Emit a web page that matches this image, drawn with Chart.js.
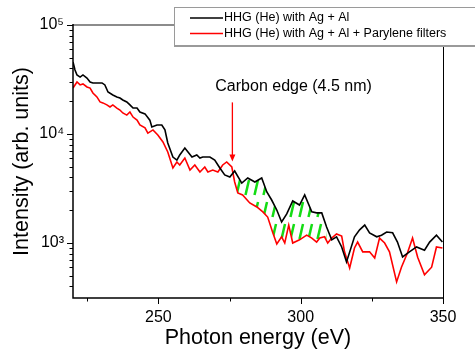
<!DOCTYPE html>
<html>
<head>
<meta charset="utf-8">
<script src="https://cdn.jsdelivr.net/npm/chart.js@4/dist/chart.umd.min.js"></script>
<style>
  html, body { margin: 0; padding: 0; background: #fff; }
  #wrap { width: 475px; height: 351px; }
</style>
</head>
<body>
<div id="wrap"><canvas id="chart" width="475" height="351"></canvas></div>
<script>
// HHG spectra (photon energy in eV, intensity in arb. units)
const seriesLabels = ['HHG (He) with Ag + Al', 'HHG (He) with Ag + Al + Parylene filters'];

const energyBlack = [220.0, 220.7, 221.4, 222.5, 223.5, 224.9, 226.0, 227.0, 228.8, 230.2,
  231.2, 232.3, 234.0, 235.4, 236.5, 237.5, 238.9, 240.0, 241.1, 242.5,
  243.5, 245.3, 247.0, 247.7, 249.5, 251.2, 252.3, 253.3, 255.1, 256.5,
  257.5, 259.3, 260.4, 261.8, 263.5, 264.6, 265.6, 268.1, 269.8, 271.6,
  273.3, 275.1, 276.8, 279.3, 281.4, 283.9, 286.3, 288.1, 289.8, 291.6,
  293.3, 295.1, 297.2, 299.6, 301.4, 303.9, 305.6, 307.4, 309.1, 310.9,
  312.6, 314.4, 316.1, 318.9, 320.7, 322.5, 324.2, 326.7, 328.4, 330.2,
  332.3, 334.0, 335.8, 338.2, 340.7, 343.5, 345.3, 347.7, 349.8];
const intensityBlack = [45800, 38700, 34800, 33300, 34800, 32600, 30000, 29400, 29400, 29400,
  28200, 24300, 22800, 21900, 21400, 20500, 19700, 18500, 17300, 17300,
  15900, 15300, 13400, 11600, 12100, 12100, 10900, 8270, 6150, 5770,
  6420, 7440, 6840, 6150, 6420, 6020, 6150, 6150, 5770, 4880,
  4210, 4030, 4580, 3550, 3950, 3630, 3950, 2940, 2480, 2010,
  1560, 1850, 2430, 2230, 2760, 1930, 1890, 1890, 1400, 1070,
  1140, 920, 670, 1140, 1320, 1460, 1240, 1140, 1180, 1260,
  1240, 1020, 744, 830, 920, 860, 1020, 1180, 1020];

const energyRed = [220.0, 221.4, 222.5, 223.5, 224.9, 226.0, 227.0, 228.4, 229.5, 230.5,
  231.9, 233.0, 234.0, 235.4, 236.5, 237.5, 238.9, 240.0, 241.1, 242.5,
  243.5, 245.3, 246.3, 248.1, 249.8, 251.6, 253.3, 255.1, 256.5, 257.5,
  259.3, 261.1, 262.8, 264.6, 266.3, 267.4, 269.1, 270.9, 272.6, 274.0,
  275.8, 276.8, 277.9, 279.6, 282.1, 284.6, 286.7, 288.4, 290.2, 291.6,
  293.3, 294.4, 295.8, 297.2, 299.6, 302.1, 303.9, 305.6, 306.7, 308.4,
  309.5, 310.9, 312.6, 314.4, 315.4, 317.2, 318.9, 320.0, 321.8, 324.2,
  326.0, 327.7, 329.5, 331.2, 333.7, 335.4, 337.5, 339.3, 341.1, 343.5,
  346.0, 347.7, 349.8];
const intensityRed = [26400, 30000, 28200, 28800, 27000, 26400, 23800, 21900, 19700, 19300,
  18500, 17700, 18500, 17300, 16600, 15600, 14900, 15900, 14300, 13400,
  12100, 11400, 10200, 10900, 9790, 8450, 6840, 4880, 5540, 5200,
  6020, 4670, 5200, 4480, 4980, 4480, 4670, 4480, 5200, 5540,
  4980, 3630, 2880, 2760, 2330, 2140, 1930, 1730, 1240, 980,
  1140, 1000, 1460, 1000, 1070, 1180, 1110, 1020, 1110, 1140,
  1000, 1110, 1210, 1160, 830, 590, 900, 1020, 830, 830,
  730, 1110, 1000, 830, 440, 600, 810, 1110, 740, 510,
  600, 920, 900];

// hatched region between the two spectra, past the carbon edge
const hatchRange = [276.5, 310];

const xRange = [220, 350];
const yRange = [313, 100000];
const xMajorTicks = [250, 300, 350];
const xMinorTicks = [225, 275, 325];
const yMajorTicks = [1000, 10000, 100000];
const yMinorTicks = [400, 500, 600, 700, 800, 900,
  2000, 3000, 4000, 5000, 6000, 7000, 8000, 9000,
  20000, 30000, 40000, 50000, 60000, 70000, 80000, 90000];

const edgeLabel = 'Carbon edge (4.5 nm)';
const edgeEnergy = 276;
const edgeArrow = [19500, 5600];     // tail, tip (intensity)
const edgeLabelAt = [297.5, 27500];  // energy, intensity

const FONT = '"Liberation Sans", Arial, sans-serif';
const sup = { '3': '\u00b3', '4': '\u2074', '5': '\u2075' };

const toPoints = (xs, ys) => xs.map((x, i) => ({ x: x, y: ys[i] }));
const blackPts = toPoints(energyBlack, intensityBlack);
const redPts = toPoints(energyRed, intensityRed);
const hatchPts = blackPts.filter(p => p.x >= hatchRange[0] && p.x <= hatchRange[1]);

const canvas = document.getElementById('chart');
const ctx = canvas.getContext('2d');

function makeHatch() {
  const c = document.createElement('canvas');
  c.width = 9;
  c.height = 22;
  const g = c.getContext('2d');
  g.strokeStyle = '#14dc14';
  g.lineWidth = 2.5;
  g.beginPath();
  g.moveTo(2.5, 19);
  g.lineTo(6, 4);
  g.stroke();
  return ctx.createPattern(c, 'repeat');
}
const hatch = makeHatch();

// frame, tick marks, legend box and the carbon edge note
const decor = {
  id: 'decor',
  afterDraw(chart) {
    const { ctx, chartArea: a, scales: { x, y } } = chart;
    ctx.save();

    // tick marks
    ctx.strokeStyle = '#000';
    ctx.lineWidth = 1;
    ctx.beginPath();
    xMajorTicks.forEach(v => { const px = Math.round(x.getPixelForValue(v)) + 0.5; ctx.moveTo(px, a.bottom); ctx.lineTo(px, a.bottom + 6); });
    xMinorTicks.forEach(v => { const px = Math.round(x.getPixelForValue(v)) + 0.5; ctx.moveTo(px, a.bottom); ctx.lineTo(px, a.bottom + 3.5); });
    yMajorTicks.forEach(v => { const py = Math.round(y.getPixelForValue(v)) + 0.5; ctx.moveTo(a.left, py); ctx.lineTo(a.left - 6, py); });
    yMinorTicks.forEach(v => { const py = Math.round(y.getPixelForValue(v)) + 0.5; ctx.moveTo(a.left, py); ctx.lineTo(a.left - 3.5, py); });
    ctx.stroke();

    // frame
    ctx.strokeStyle = '#8c8c8c';
    ctx.lineWidth = 2;
    ctx.beginPath(); ctx.moveTo(a.left, a.top); ctx.lineTo(a.right, a.top); ctx.stroke();
    ctx.strokeStyle = '#000';
    ctx.lineWidth = 1;
    ctx.beginPath(); ctx.moveTo(a.right + 0.5, a.top); ctx.lineTo(a.right + 0.5, a.bottom); ctx.stroke();
    ctx.lineWidth = 1.5;
    ctx.beginPath(); ctx.moveTo(a.left, a.top - 1); ctx.lineTo(a.left, a.bottom); ctx.lineTo(a.right + 1, a.bottom); ctx.stroke();

    // legend
    const lx = 174, ly = 7, lw = 310, lh = 39;
    ctx.fillStyle = '#fff';
    ctx.fillRect(lx, ly, lw, lh);
    ctx.strokeStyle = '#9a9a9a';
    ctx.lineWidth = 1;
    ctx.strokeRect(lx + 0.5, ly + 0.5, lw, lh);
    ctx.lineWidth = 2;
    ctx.beginPath(); ctx.moveTo(lx, ly + lh); ctx.lineTo(lx + lw, ly + lh); ctx.stroke();
    ctx.font = '12.5px ' + FONT;
    ctx.textBaseline = 'middle';
    ctx.textAlign = 'left';
    const colors = ['#000', '#ff0000'];
    seriesLabels.forEach((t, i) => {
      const yy = 18 + i * 15.5;
      ctx.strokeStyle = colors[i];
      ctx.lineWidth = 1.6;
      ctx.beginPath(); ctx.moveTo(190, yy); ctx.lineTo(223, yy); ctx.stroke();
      ctx.fillStyle = '#000';
      ctx.fillText(t, 224, yy);
    });

    // carbon edge note
    const ax = x.getPixelForValue(edgeEnergy);
    const y0 = y.getPixelForValue(edgeArrow[0]);
    const y1 = y.getPixelForValue(edgeArrow[1]);
    ctx.strokeStyle = '#ff0000';
    ctx.fillStyle = '#ff0000';
    ctx.lineWidth = 1.3;
    ctx.beginPath(); ctx.moveTo(ax, y0); ctx.lineTo(ax, y1 - 6); ctx.stroke();
    ctx.beginPath(); ctx.moveTo(ax - 3, y1 - 7); ctx.lineTo(ax + 3, y1 - 7); ctx.lineTo(ax, y1); ctx.closePath(); ctx.fill();
    ctx.fillStyle = '#000';
    ctx.font = '16px ' + FONT;
    ctx.textAlign = 'center';
    ctx.fillText(edgeLabel, x.getPixelForValue(edgeLabelAt[0]), y.getPixelForValue(edgeLabelAt[1]));

    ctx.restore();
  }
};

new Chart(ctx, {
  type: 'line',
  data: {
    datasets: [
      { label: seriesLabels[0], data: blackPts, borderColor: '#000', borderWidth: 1.6, pointRadius: 0, tension: 0, fill: false },
      { label: seriesLabels[1], data: redPts, borderColor: '#ff0000', borderWidth: 1.6, pointRadius: 0, tension: 0, fill: false },
      { label: 'hatch', data: hatchPts, borderWidth: 0, borderColor: 'rgba(0,0,0,0)', pointRadius: 0, tension: 0,
        fill: { target: 1, above: hatch, below: 'rgba(0,0,0,0)' } }
    ]
  },
  options: {
    responsive: false,
    animation: false,
    devicePixelRatio: 1,
    layout: { padding: { left: 0, top: 25, right: 32, bottom: 0 } },
    plugins: { legend: { display: false }, tooltip: { enabled: false } },
    scales: {
      x: {
        type: 'linear',
        min: xRange[0],
        max: xRange[1],
        afterFit(s) { s.height = 53; },
        afterBuildTicks(s) { s.ticks = xMajorTicks.map(v => ({ value: v })); },
        grid: { display: false, drawTicks: false },
        border: { display: false },
        ticks: { color: '#000', font: { family: FONT, size: 16 }, padding: 10, maxRotation: 0 },
        title: { display: true, text: 'Photon energy (eV)', color: '#000', font: { family: FONT, size: 21.5 }, padding: { top: 0, bottom: 0 } }
      },
      y: {
        type: 'logarithmic',
        min: yRange[0],
        max: yRange[1],
        afterFit(s) { s.width = 73; },
        afterBuildTicks(s) { s.ticks = yMajorTicks.map(v => ({ value: v })); },
        grid: { display: false, drawTicks: false },
        border: { display: false },
        ticks: {
          color: '#000', font: { family: FONT, size: 16 }, padding: 9,
          callback: v => '10' + sup[String(Math.round(Math.log10(v)))]
        },
        title: { display: true, text: 'Intensity (arb. units)', color: '#000', font: { family: FONT, size: 21.5 }, padding: { top: 9, bottom: 0 } }
      }
    }
  },
  plugins: [decor]
});
</script>
</body>
</html>
